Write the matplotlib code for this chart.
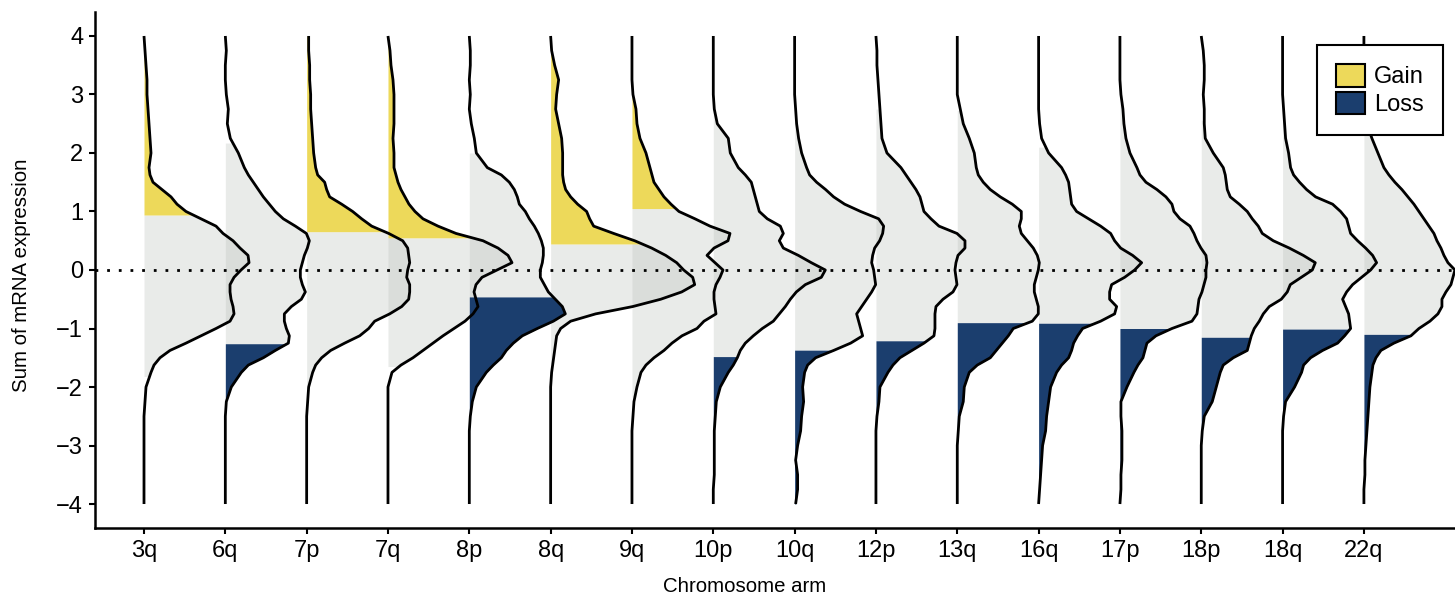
import numpy as np
import matplotlib.pyplot as plt
from matplotlib.patches import Patch

plt.rcParams['font.family'] = ['Liberation Sans', 'DejaVu Sans']

# chromosome arms along the x axis
arms = ['3q', '6q', '7p', '7q', '8p', '8q', '9q', '10p', '10q',
        '12p', '13q', '16q', '17p', '18p', '18q', '22q']

y_grid = [4, 3.75, 3.5, 3.25, 3, 2.75, 2.5, 2.25, 2,
          1.75, 1.625, 1.5, 1.375, 1.25, 1.125, 1, 0.875, 0.75, 0.625,
          0.5, 0.375, 0.25, 0.125, 0, -0.125, -0.25, -0.375, -0.5, -0.625,
          -0.75, -0.875, -1, -1.125, -1.25, -1.375, -1.5, -1.625, -1.75,
          -2, -2.25, -2.5, -2.75, -3, -3.25, -3.5, -3.75, -4]

dens_3q = [0, 1, 2, 3, 3, 4, 5, 6, 7,
           5, 6, 9, 18, 27, 33, 42, 57, 72, 79, 89, 96, 104, 105, 97, 90, 86, 86, 87, 89,
           90, 86, 72, 57, 42, 26, 16, 10, 7,
           2, 1, 0, 0, 0, 0, 0, 0, 0]
dens_6q = [0, 1, 0, 0, 1, 3, 2, 5, 13,
           19, 23, 28, 33, 38, 44, 50, 58, 70, 81, 84, 82, 79, 77, 75, 75, 77, 80, 76, 66,
           59, 59, 61, 64, 63, 50, 38, 23, 16,
           6, 1, 0, 0, 0, 0, 0, 0, 0]
dens_7p = [2, 2, 3, 3, 4, 4, 5, 6, 7,
           9, 11, 18, 20, 23, 35, 46, 55, 65, 82, 96, 101, 102, 103, 101, 100, 103, 103, 102, 95,
           83, 68, 62, 53, 38, 24, 15, 9, 6,
           2, 1, 0, 0, 0, 0, 0, 0, 0]
dens_7q = [0, 2, 3, 5, 6, 6, 6, 5, 6,
           6, 8, 10, 13, 17, 21, 27, 35, 50, 68, 95, 110, 120, 124, 109, 94, 88, 86, 88, 90,
           85, 77, 66, 55, 45, 35, 25, 13, 4,
           0, 0, 0, 0, 0, 0, 0, 0, 0]
dens_8p = [0, 1, 1, 0, 1, 0, 2, 5, 7,
           18, 32, 40, 45, 48, 50, 56, 60, 65, 69, 72, 74, 74, 73, 71, 71, 75, 79, 86, 93,
           96, 84, 68, 53, 44, 37, 32, 24, 17,
           7, 3, 1, 0, 0, 0, 0, 0, 0]
dens_8q = [0, 1, 4, 8, 6, 5, 8, 11, 12,
           12, 12, 13, 15, 20, 27, 36, 39, 43, 63, 84, 101, 115, 126, 133, 142, 144, 131, 110, 82,
           45, 20, 10, 6, 5, 4, 3, 2, 1,
           0, 0, 0, 0, 0, 0, 0, 0, 0]
dens_9q = [0, 0, 0, 0, 1, 4, 5, 8, 14,
           18, 20, 22, 27, 32, 39, 47, 63, 78, 98, 96, 82, 75, 83, 91, 88, 84, 82, 82, 83,
           84, 72, 65, 50, 40, 32, 22, 14, 9,
           5, 2, 1, 0, 0, 0, 0, 0, 0]
dens_10p = [0, 0, 0, 0, 0, 1, 4, 15, 17,
            25, 32, 38, 40, 42, 44, 46, 54, 67, 70, 66, 70, 85, 98, 112, 108, 92, 83, 77, 72,
            66, 60, 49, 40, 32, 27, 24, 20, 15,
            7, 3, 2, 1, 1, 1, 1, 0, 0]
dens_10q = [0, 0, 0, 0, 0, 1, 2, 4, 7,
            12, 15, 22, 31, 39, 50, 66, 84, 89, 88, 85, 80, 78, 77, 79, 80, 81, 77, 72, 67,
            62, 64, 66, 68, 56, 39, 21, 13, 10,
            8, 9, 7, 6, 3, 1, 3, 3, 1]
dens_12p = [0, 1, 1, 2, 3, 4, 5, 6, 11,
            25, 30, 35, 40, 44, 46, 48, 55, 63, 81, 89, 89, 82, 80, 79, 80, 81, 77, 67, 60,
            59, 59, 59, 58, 48, 36, 24, 17, 12,
            4, 3, 1, 0, 0, 0, 0, 0, 0]
dens_13q = [0, 0, 0, 0, 0, 3, 6, 12, 17,
            19, 21, 26, 33, 43, 55, 64, 64, 62, 64, 70, 76, 80, 82, 81, 79, 77, 77, 79, 81,
            81, 75, 56, 51, 45, 39, 33, 20, 12,
            7, 6, 2, 1, 0, 0, 0, 0, 0]
dens_16q = [0, 0, 0, 0, 0, 0, 1, 3, 10,
            23, 27, 30, 31, 32, 33, 38, 50, 62, 72, 76, 82, 94, 103, 96, 86, 73, 71, 71, 78,
            76, 62, 44, 39, 35, 33, 30, 23, 18,
            12, 10, 8, 7, 4, 3, 2, 1, 0]
dens_17p = [0, 0, 0, 0, 1, 3, 4, 6, 10,
            17, 20, 26, 37, 46, 52, 54, 60, 70, 74, 77, 81, 86, 87, 86, 86, 84, 82, 79, 78,
            77, 72, 52, 36, 27, 25, 23, 18, 14,
            7, 1, 1, 2, 2, 2, 1, 1, 0]
dens_18p = [0, 2, 3, 3, 2, 3, 3, 4, 12,
            22, 24, 25, 26, 29, 38, 46, 51, 57, 61, 72, 88, 102, 114, 111, 100, 89, 86, 80, 68,
            62, 58, 53, 50, 48, 46, 32, 22, 19,
            15, 11, 3, 1, 0, 0, 0, 0, 0]
dens_18q = [0, 0, 0, 0, 0, 1, 2, 3, 6,
            8, 11, 17, 24, 33, 50, 58, 64, 66, 68, 75, 83, 90, 94, 88, 79, 70, 64, 60, 63,
            66, 67, 68, 62, 55, 40, 28, 21, 19,
            12, 3, 1, 0, 0, 0, 0, 0, 0]
dens_22q = [0, 0, 0, 0, 1, 2, 3, 8, 14,
            20, 25, 31, 38, 44, 50, 55, 60, 65, 70, 73, 77, 80, 84, 91, 89, 87, 82, 78, 78,
            74, 66, 55, 47, 30, 17, 12, 9, 8,
            6, 5, 4, 3, 2, 1, 1, 0, 0]

densities = [dens_3q, dens_6q, dens_7p, dens_7q, dens_8p, dens_8q, dens_9q, dens_10p,
             dens_10q, dens_12p, dens_13q, dens_16q, dens_17p, dens_18p, dens_18q, dens_22q]

nan = np.nan
# thresholds: above gain_cut is "Gain", below loss_cut is "Loss"
gain_cut = [0.94, nan, 0.655, 0.55, nan, 0.445, 1.05, nan, nan, nan, nan, nan, nan, nan, nan, nan]
loss_cut = [nan, -1.26, nan, nan, -0.46, nan, nan, -1.48, -1.37, -1.21, -0.90, -0.91, -1.0, -1.15, -1.01, -1.1]
# extent of the grey band where there is no coloured tail
shade_top = [nan, 2.17, nan, nan, 2.0, nan, nan, 2.7, 2.56, 2.75, 2.73, 2.1, 2.85, 2.56, 2.6, 2.3]
shade_bot = [-1.82, nan, -1.97, -1.65, nan, -1.6, -2.17, nan, nan, nan, nan, nan, nan, nan, nan, nan]

gain_color = '#EDD95A'
loss_color = '#1B3E6E'
shade_color = '#B8BDB8'
scale = 1 / 81.3  # density units -> spacing between arms


def band(y, w, lo, hi):
    # part of the ridge between lo and hi
    inside = (y < hi) & (y > lo)
    ys = np.concatenate([[hi], y[inside], [lo]])
    ws = np.interp(ys, y[::-1], w[::-1])
    return ys, ws


fig = plt.figure(figsize=(14.55, 6.0), dpi=100)
ax = fig.add_axes([95 / 1455, 72 / 600, 1360 / 1455, 516 / 600])

y = np.array(y_grid, dtype=float)
for i, d in enumerate(densities):
    w = np.array(d, dtype=float)
    top = gain_cut[i] if not np.isnan(gain_cut[i]) else shade_top[i]
    bot = loss_cut[i] if not np.isnan(loss_cut[i]) else shade_bot[i]
    ys, ws = band(y, w, bot, top)
    ax.fill_betweenx(ys, i, i + ws * scale, color=shade_color, alpha=0.3, lw=0, zorder=1)
    if not np.isnan(gain_cut[i]):
        ys, ws = band(y, w, gain_cut[i], 4)
        ax.fill_betweenx(ys, i, i + ws * scale, color=gain_color, lw=0, zorder=2)
    if not np.isnan(loss_cut[i]):
        ys, ws = band(y, w, -4, loss_cut[i])
        ax.fill_betweenx(ys, i, i + ws * scale, color=loss_color, lw=0, zorder=2)

ax.axhline(0, color='black', lw=2, linestyle=(0, (1, 3.2)), zorder=3)

for i, d in enumerate(densities):
    w = np.array(d, dtype=float)
    ax.plot(i + w * scale, y, color='black', lw=2.0, zorder=4,
            solid_joinstyle='round', solid_capstyle='butt')

ax.set_xlim(-0.6025, 16.12)
ax.set_ylim(-4.41, 4.41)
ax.set_xticks(range(len(arms)))
ax.set_xticklabels(arms)
ax.set_yticks(range(-4, 5))
ax.tick_params(direction='out', length=4.5, width=1.5, labelsize=17, pad=4, color='black')

for side in ['top', 'right']:
    ax.spines[side].set_visible(False)
for side in ['left', 'bottom']:
    ax.spines[side].set_linewidth(1.8)

ax.set_ylabel('Sum of mRNA expression', fontsize=14.7)
ax.yaxis.set_label_coords(-0.047, 0.49)
ax.set_xlabel('Chromosome arm', fontsize=14.7)
ax.xaxis.set_label_coords(0.478, -0.095)

handles = [Patch(facecolor=gain_color, edgecolor='black', lw=1.5, label='Gain'),
           Patch(facecolor=loss_color, edgecolor='black', lw=1.5, label='Loss')]
leg = ax.legend(handles=handles, loc='upper right', bbox_to_anchor=(0.991, 0.936),
                fontsize=17, frameon=True, fancybox=False, edgecolor='black',
                framealpha=1, handlelength=1.2, handleheight=1.1, labelspacing=0.15,
                borderpad=0.8, handletextpad=0.4, borderaxespad=0)
leg.get_frame().set_linewidth(1.5)
leg.set_zorder(10)

fig.savefig('out.png', dpi=100)
